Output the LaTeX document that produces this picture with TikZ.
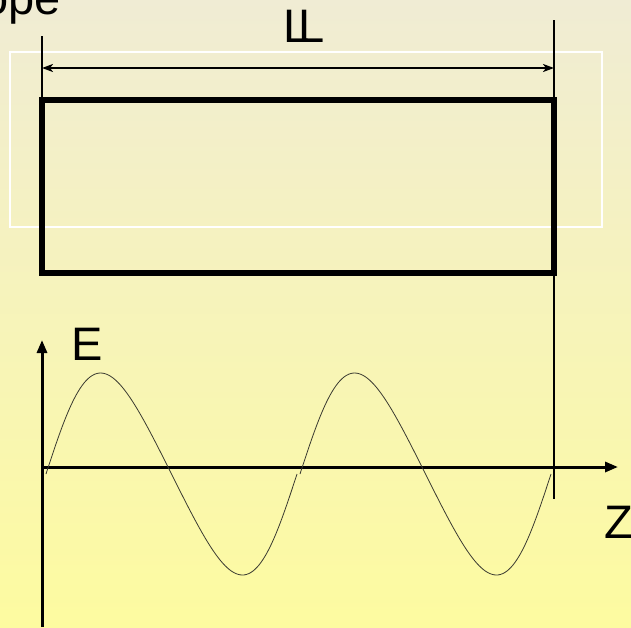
\documentclass[tikz,border=0pt]{standalone}
\usepackage{fontspec}
\setmainfont{Liberation Sans}
\usetikzlibrary{arrows.meta}
\definecolor{bgtop}{HTML}{F0ECD4}
\definecolor{bgbot}{HTML}{FDFBA0}
\definecolor{wave}{HTML}{3A3A30}
\tikzset{
  lbl/.style={inner sep=0pt, outer sep=0pt, font=\fontsize{47}{50}\selectfont},
  thinline/.style={line width=2pt, black},
  axis/.style={line width=3pt, black, -{Triangle[length=13pt,width=10pt]}},
  dim/.style={line width=2pt, black, {Stealth[length=11pt,width=8pt,inset=3pt]}-{Stealth[length=11pt,width=8pt,inset=3pt]}},
  sinewave/.style={line width=0.8pt, wave},
  frame/.style={draw=white, line width=1.3pt},
  bar/.style={draw=black, line width=6pt, minimum width=512pt, minimum height=173pt, inner sep=0pt, outer sep=0pt}
}
\begin{document}
\begin{tikzpicture}[x=1pt,y=-1pt]
\useasboundingbox (0,0) rectangle (631,627);
\clip (0,0) rectangle (631,627);
\shade[top color=bgtop, bottom color=bgbot] (0,0) rectangle (631,627);
% white frame
\draw[frame] (10,52) rectangle (602,227);
% thick box
\node[bar] (box) at (298,186.5) {};
% extension lines
\coordinate (lt) at (42,36);
\coordinate (rt) at (554,20);
\coordinate (rb) at (554,499);
\draw[thinline] (lt) -- (box.north west);
\draw[thinline] (rt) -- (rb);
% dimension line
\coordinate (dl) at (42,68);
\coordinate (dr) at (554,68);
\draw[dim] (dl) -- (dr);
% labels
\node[lbl, anchor=base west] (L1) at (283.5,42) {L};
\node[lbl, anchor=base west] (L2) at (298.5,42) {L};
\node[lbl, anchor=base east] (ope) at (61,14) {ope};
% axes
\coordinate (o) at (42,467);
\coordinate (ybot) at (42,627);
\coordinate (ytop) at (42,340);
\coordinate (xend) at (618,467);
\draw[axis] (ybot) -- (ytop);
\draw[axis] (o) -- (xend);
\node[lbl, anchor=base west] (E) at (71,360) {E};
\node[lbl, anchor=base west] (Z) at (604,538) {Z};
% sine wave
\draw[sinewave] plot[domain=46:297, samples=120, smooth] (\x, {474 - 101*sin((\x-46)/251*360 + 12*sin((\x-46)/251*360))});
\draw[sinewave] plot[domain=300:551, samples=120, smooth] (\x, {474 - 101*sin((\x-300)/251*360 + 12*sin((\x-300)/251*360))});
\end{tikzpicture}
\end{document}
